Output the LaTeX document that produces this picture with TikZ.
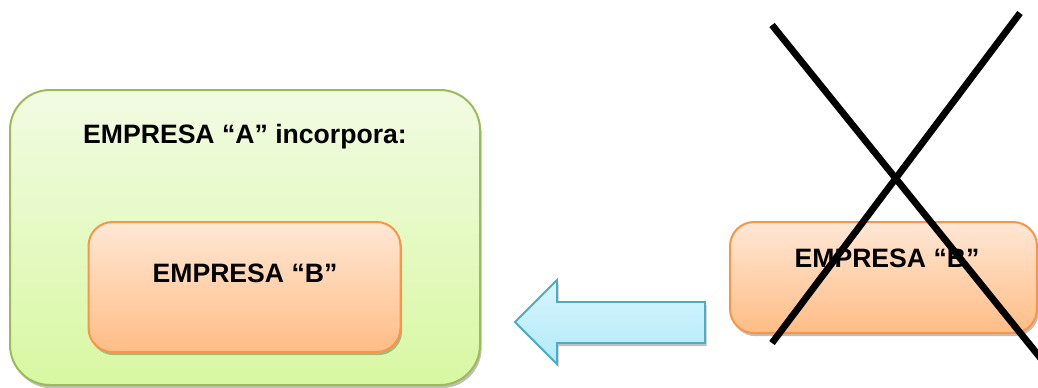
\documentclass[tikz,border=0pt]{standalone}
\usepackage{fontspec}
\setmainfont{Liberation Sans}
\usetikzlibrary{shadows}
\definecolor{gborder}{HTML}{9BBB59}
\definecolor{gtop}{HTML}{F2FBE3}
\definecolor{gbot}{HTML}{D8F8A2}
\definecolor{oborder}{HTML}{F79646}
\definecolor{otop}{HTML}{FFE7D5}
\definecolor{obot}{HTML}{FFBD85}
\definecolor{bborder}{HTML}{4BACC6}
\definecolor{btop}{HTML}{D8F5FE}
\definecolor{bbot}{HTML}{B2EAFA}
\begin{document}
\begin{tikzpicture}[x=0.5pt,y=-0.5pt,
  shade/.style={drop shadow={shadow xshift=0.8pt,shadow yshift=-1.6pt,opacity=0.25,fill=black}},
  gbox/.style={rectangle,draw=gborder,line width=1pt,rounded corners=20pt,top color=gtop,bottom color=gbot,shade},
  obox/.style={rectangle,draw=oborder,line width=1pt,rounded corners=12pt,top color=otop,bottom color=obot,shade},
  lbl/.style={font=\fontsize{13.3}{15}\selectfont\bfseries,inner sep=0pt},
  xline/.style={line width=3.4pt,black}]
\useasboundingbox (0,0) rectangle (1038,387);
\clip (0,0) rectangle (1038,387);
% left container
\node[gbox,minimum width=235pt,minimum height=147.5pt] (A) at (245,237.5) {};
\node[lbl] (Atitle) at (245,137) {EMPRESA “A” incorpora:};
\node[obox,minimum width=156pt,minimum height=65pt] (Bin) at (244.5,287) {};
\node[lbl] (Bintext) at (245,273) {EMPRESA “B”};
% block arrow
\path[draw=bborder,line width=0.9pt,top color=btop,bottom color=bbot,shade]
  (515,322) -- (557,280) -- (557,302) -- (705,302) -- (705,343) -- (557,343) -- (557,364) -- cycle;
% right box
\node[obox,minimum width=153.5pt,minimum height=55.5pt] (Bout) at (883.5,277.5) {};
\node[lbl] (Bouttext) at (887,258) {EMPRESA “B”};
% cross
\coordinate (x1a) at (772,25);
\coordinate (x1b) at (1055,376);
\coordinate (x2a) at (1020,13);
\coordinate (x2b) at (772,343);
\draw[xline] (x1a) -- (x1b);
\draw[xline] (x2a) -- (x2b);
\end{tikzpicture}
\end{document}
